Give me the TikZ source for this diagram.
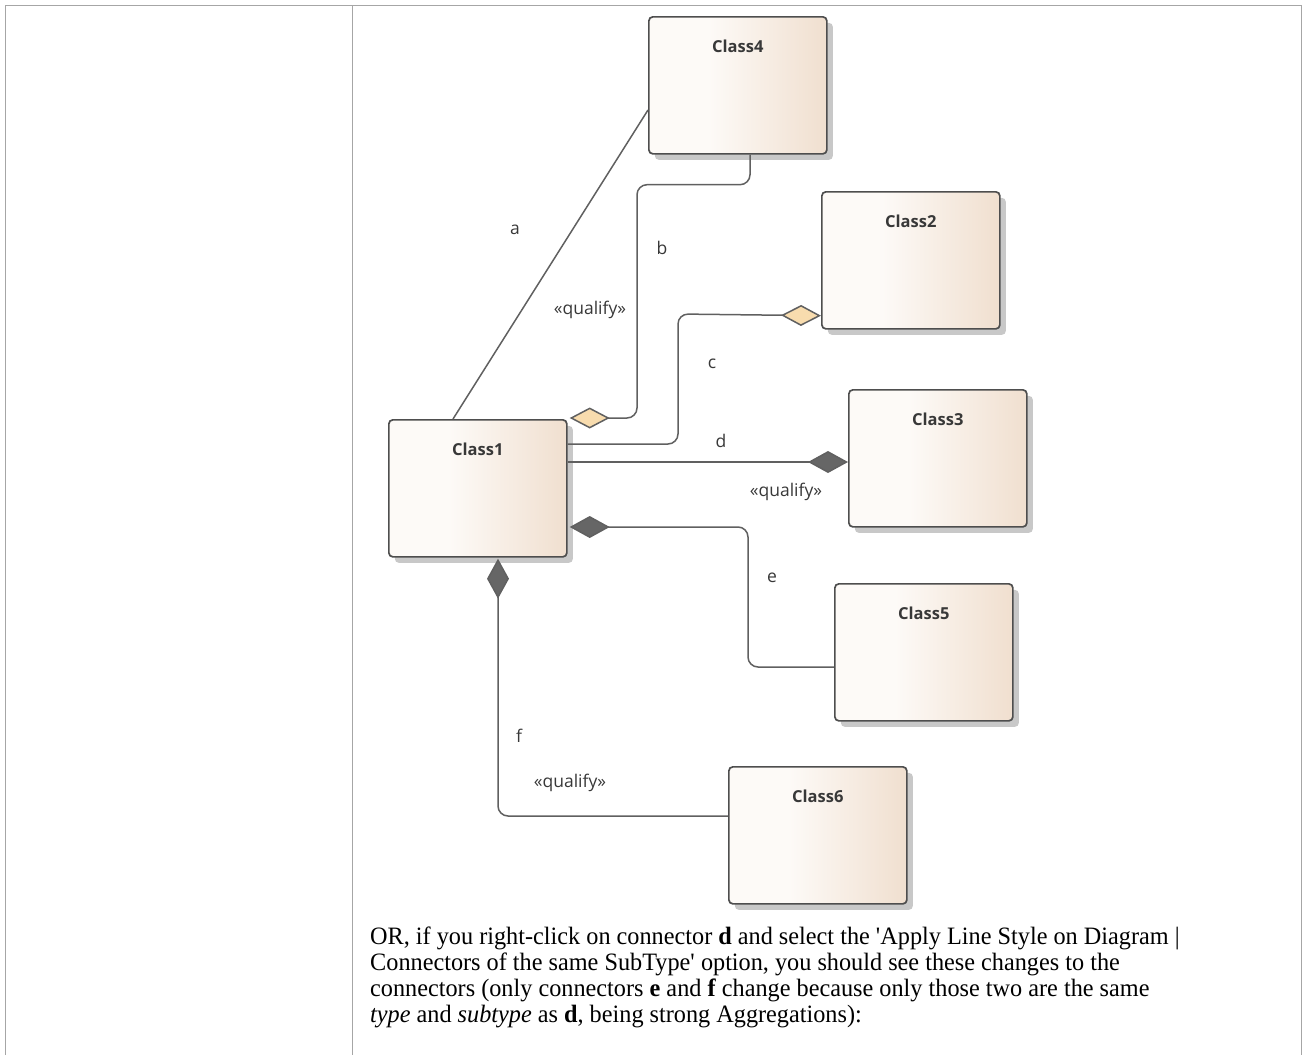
\documentclass[tikz,border=0pt]{standalone}
\usepackage{fontspec}
\setmainfont{Liberation Serif}
\newfontfamily\bodyfont[FakeStretch=0.97]{Liberation Serif}
\newfontfamily\umlfont{Open Sans}
\usetikzlibrary{arrows.meta,calc,shadows}

\definecolor{classleft}{HTML}{FDFAF7}
\definecolor{classright}{HTML}{F0DFCF}
\definecolor{classline}{HTML}{4E4E4E}
\definecolor{connline}{HTML}{606060}
\definecolor{diamondhollow}{HTML}{F8DCAE}
\definecolor{diamondsolid}{HTML}{666666}
\definecolor{shadowgray}{HTML}{C8C8C8}
\definecolor{tableline}{HTML}{A6A6A6}
\definecolor{labelgray}{HTML}{383838}

\pgfdeclarehorizontalshading{classshade}{100bp}{color(0bp)=(classleft); color(42bp)=(classleft); color(75bp)=(classright); color(100bp)=(classright)}

\tikzset{
    class box/.style={
      draw=classline,
      line width=1.7pt,
      rounded corners=4pt,
      shading=classshade,
      drop shadow={shadow xshift=6pt, shadow yshift=-6pt, fill=shadowgray, opacity=1},
      minimum width=178pt,
      minimum height=137pt,
      inner sep=0pt,
      anchor=north west,
      label={[class name, anchor=center, yshift=-30pt]north:#1}
    },
    class name/.style={
      font=\umlfont\bfseries\fontsize{16.5}{19}\selectfont,
      text=labelgray
    },
    conn/.style={
      draw=connline,
      line width=1.5pt,
      rounded corners=10pt
    },
    hollow end/.style={
      -{Diamond[length=40pt,width=21pt,fill=diamondhollow]}
    },
    solid end/.style={
      -{Diamond[length=40pt,width=22pt,fill=diamondsolid]}
    },
    conn label/.style={
      font=\umlfont\fontsize{17.5}{20}\selectfont,
      text=labelgray
    },
    body text/.style={
      font=\bodyfont\fontsize{25}{26}\selectfont,
      anchor=base west,
      inner sep=0pt
    },
    table line/.style={
      draw=tableline,
      line width=1.8pt
    }
  }

\begin{document}
\begin{tikzpicture}[x=1pt,y=-1pt]
      \useasboundingbox (0,0) rectangle (1305,1055);

      % Tabelle
      \draw[table line] (5.5,1055) |- (1301.5,5.5) -- (1301.5,1055);
      \draw[table line] (352.5,5.5) -- (352.5,1055);

      % Klassen
      \node[class box=Class4] (c4) at (648,16) {};
      \node[class box=Class2] (c2) at (821,191) {};
      \node[class box=Class3] (c3) at (848,389) {};
      \node[class box=Class1] (c1) at (388,419) {};
      \node[class box=Class5] (c5) at (834,583) {};
      \node[class box=Class6] (c6) at (728,766) {};

      % Verbindungen
      \draw[conn] ($(c1.north west)+(65,0)$) -- ($(c4.north west)+(0,94)$);
      \draw[conn, hollow end] ($(c4.south west)+(102,0)$) -- ++(0,30) -| (637,418) -- ($(c1.north east)+(2,-1)$);
      \draw[conn, hollow end] ($(c1.north east)+(0,25)$) -| (678,314) -- ($(c2.south west)+(0,-14)$);
      \draw[conn, solid end] ($(c1.north east)+(0,43)$) -- ($(c3.north west)+(0,73)$);
      \draw[conn, solid end] ($(c5.north west)+(0,84)$) -| (748,527) -- ($(c1.north east)+(2,108)$);
      \draw[conn, solid end] ($(c6.north west)+(0,50)$) -| ($(c1.south west)+(110,1)$);

      % Beschriftungen
      \node[conn label] (la) at (515,230) {a};
      \node[conn label] (lb) at (662,248) {b};
      \node[conn label] (qb) at (590,310) {«qualify»};
      \node[conn label] (lc) at (712,364) {c};
      \node[conn label] (ld) at (721,441) {d};
      \node[conn label] (qd) at (786,492) {«qualify»};
      \node[conn label] (le) at (772,578) {e};
      \node[conn label] (lf) at (519,736) {f};
      \node[conn label] (qf) at (570,783) {«qualify»};

      % Text
      \node[body text] (t1) at (370,944) {OR, if you right-click on connector \textbf{d} and select the \textquotesingle Apply Line Style on Diagram |};
      \node[body text] (t2) at (370,970) {Connectors of the same SubType\textquotesingle{} option, you should see these changes to the};
      \node[body text] (t3) at (370,996) {connectors (only connectors \textbf{e} and \textbf{f} change because only those two are the same};
      \node[body text] (t4) at (370,1022) {\textit{type} and \textit{subtype} as \textbf{d}, being strong Aggregations):};
    \end{tikzpicture}
\end{document}
